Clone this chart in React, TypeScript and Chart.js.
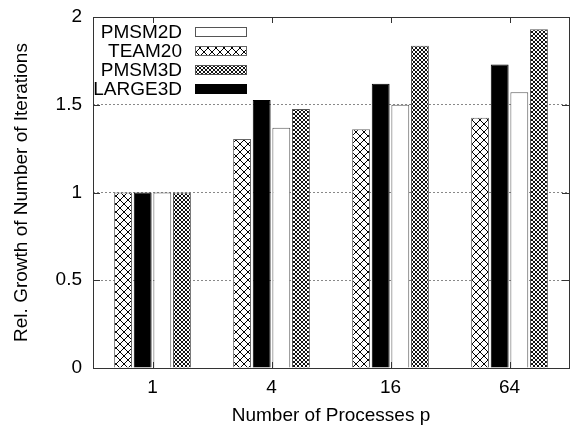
import { useEffect, useRef } from 'react';
import { Chart, registerables } from 'chart.js';

Chart.register(...registerables);

const categories = ['1', '4', '16', '64'];
const team20 = [1, 1.305, 1.36, 1.426];
const large3d = [1, 1.527, 1.62, 1.73];
const pmsm2d = [1, 1.369, 1.5, 1.571];
const pmsm3d = [1, 1.476, 1.836, 1.93];
const yTicks = [0, 0.5, 1, 1.5, 2];
const legendOrder = ['PMSM2D', 'TEAM20', 'PMSM3D', 'LARGE3D'];

const FONT = '"Liberation Sans", Arial, Helvetica, sans-serif';

function makePattern(size: number, bg: string, fg: string) {
  const c = document.createElement('canvas');
  c.width = size;
  c.height = size;
  const g = c.getContext('2d')!;
  g.fillStyle = bg;
  g.fillRect(0, 0, size, size);
  g.fillStyle = fg;
  for (let i = 0; i < size; i++) {
    g.fillRect(i, i, 1, 1);
    g.fillRect(size - 1 - i, i, 1, 1);
  }
  return g.createPattern(c, 'repeat')!;
}

const framePlugin = {
  id: 'frame',
  afterDatasetsDraw(chart: any) {
    const { ctx, chartArea: a, scales } = chart;
    ctx.save();
    ctx.strokeStyle = '#333';
    ctx.lineWidth = 1;
    ctx.beginPath();
    const tl = 7;
    yTicks.forEach((v) => {
      const y = Math.round(scales.y.getPixelForValue(v)) + 0.5;
      ctx.moveTo(a.left, y);
      ctx.lineTo(a.left + tl, y);
      ctx.moveTo(a.right, y);
      ctx.lineTo(a.right - tl, y);
    });
    categories.forEach((_, i) => {
      const x = Math.round(scales.x.getPixelForTick(i)) + 0.5;
      ctx.moveTo(x, a.top);
      ctx.lineTo(x, a.top + 6);
      ctx.moveTo(x, a.bottom);
      ctx.lineTo(x, a.bottom - 6);
    });
    ctx.stroke();
    ctx.strokeRect(Math.round(a.left) + 0.5, Math.round(a.top) + 0.5, Math.round(a.right - a.left), Math.round(a.bottom - a.top));

    // legend
    ctx.font = `19px ${FONT}`;
    ctx.textAlign = 'right';
    ctx.textBaseline = 'middle';
    legendOrder.forEach((name, i) => {
      const ds = chart.data.datasets.find((d: any) => d.label === name);
      const cy = a.top + 15 + i * 19;
      ctx.fillStyle = '#000';
      ctx.fillText(name, a.left + 89, cy + 1);
      ctx.fillStyle = ds.backgroundColor;
      ctx.fillRect(a.left + 102, cy - 5, 52, 10);
      ctx.strokeStyle = ds.borderColor;
      ctx.strokeRect(a.left + 102.5, cy - 4.5, 51, 9);
    });
    ctx.restore();
  },
};

export default function App() {
  const ref = useRef<HTMLCanvasElement>(null);
  useEffect(() => {
    document.body.style.margin = '0';
    const cross = makePattern(8, '#fff', '#000');
    const dense = makePattern(4, '#fff', '#111');
    const common = { borderWidth: 1, categoryPercentage: 0.66, barPercentage: 0.91 };
    const chart = new Chart(ref.current!, {
      type: 'bar',
      data: {
        labels: categories,
        datasets: [
          { label: 'TEAM20', data: team20, backgroundColor: cross as any, borderColor: '#666', ...common },
          { label: 'LARGE3D', data: large3d, backgroundColor: '#000', borderColor: '#000', ...common },
          { label: 'PMSM2D', data: pmsm2d, backgroundColor: '#fff', borderColor: '#555', ...common },
          { label: 'PMSM3D', data: pmsm3d, backgroundColor: dense as any, borderColor: '#555', ...common },
        ],
      },
      options: {
        animation: false,
        responsive: false,
        layout: { padding: { top: 17, right: 3, left: 0, bottom: 0 } },
        plugins: { legend: { display: false }, tooltip: { enabled: false } },
        scales: {
          x: {
            grid: { display: false, drawTicks: false },
            border: { display: false },
            ticks: { font: { family: FONT, size: 19 }, color: '#000', padding: 8 },
            title: {
              display: true,
              text: 'Number of Processes p',
              font: { family: FONT, size: 19 },
              color: '#000',
              padding: { top: 0, bottom: 0 },
            },
            afterFit: (s: any) => {
              s.height = 59;
              s.paddingLeft = 0;
              s.paddingRight = 0;
            },
          },
          y: {
            min: 0,
            max: 2,
            afterBuildTicks: (s: any) => {
              s.ticks = yTicks.map((v) => ({ value: v }));
            },
            ticks: {
              font: { family: FONT, size: 19 },
              color: '#000',
              padding: 11,
              callback: (v: any) => String(v),
            },
            grid: {
              drawTicks: false,
              lineWidth: 1,
              color: (c: any) => (c.tick && (c.tick.value === 0 || c.tick.value === 2) ? 'rgba(0,0,0,0)' : '#888'),
            },
            border: { display: false, dash: [2, 2] },
            title: {
              display: true,
              text: 'Rel. Growth of Number of Iterations',
              font: { family: FONT, size: 19 },
              color: '#000',
              padding: { top: 10, bottom: 0 },
            },
            afterFit: (s: any) => {
              s.width = 93;
              s.paddingTop = 0;
              s.paddingBottom = 0;
            },
          },
        },
      },
      plugins: [framePlugin],
    });
    return () => chart.destroy();
  }, []);
  return <canvas ref={ref} width={572} height={427} style={{ display: 'block' }} />;
}
